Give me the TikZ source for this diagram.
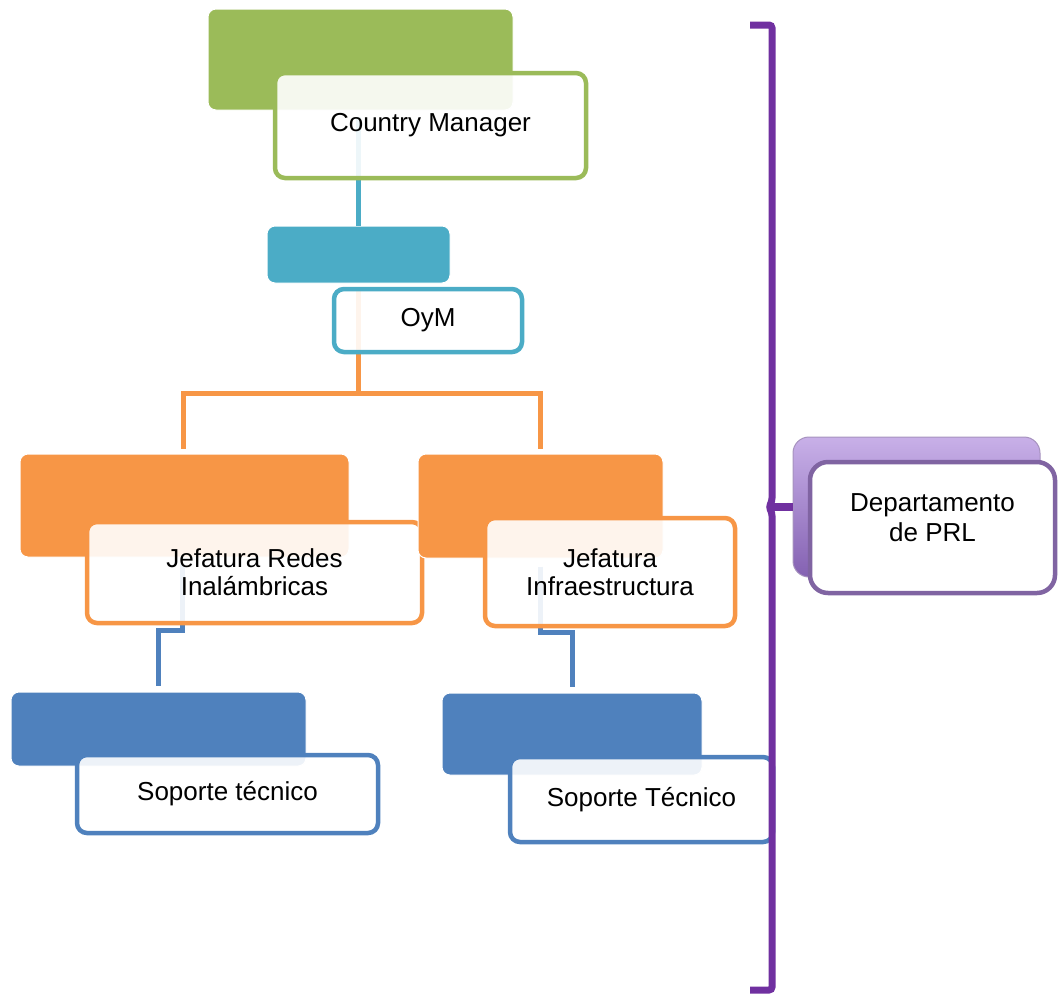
\documentclass[tikz,border=0pt]{standalone}
\usepackage{fontspec}
\setmainfont{Liberation Sans}
\usetikzlibrary{calc}
\definecolor{cgreen}{HTML}{9BBB59}
\definecolor{cteal}{HTML}{4BACC6}
\definecolor{corange}{HTML}{F79646}
\definecolor{cblue}{HTML}{4F81BD}
\definecolor{cpurple}{HTML}{7030A0}
\definecolor{cpbox}{HTML}{8064A2}
\definecolor{cptop}{HTML}{C8B0E8}
\definecolor{cpbot}{HTML}{8461B2}
\tikzset{
  fbox/.style={rectangle, rounded corners=8pt, inner sep=0pt, draw=white, line width=1pt, fill=#1},
  wbox/.style={rectangle, rounded corners=10pt, inner sep=0pt, draw=#1, line width=4.5pt,
    fill=white, fill opacity=0.9, text opacity=1, align=center,
    font=\fontsize{26}{28}\selectfont},
  conn/.style={draw=#1, line width=5pt},
}
\begin{document}
\begin{tikzpicture}[x=1pt,y=-1pt]
\useasboundingbox (0,0) rectangle (1060,994);
\coordinate (obar) at (358,393);
% top level
\node[fbox=cgreen, minimum width=305, minimum height=101] (gf) at (360.5,59.5) {};
\node[fbox=cteal, minimum width=183, minimum height=57] (tf) at (358.5,254.5) {};
\draw[conn=cteal] (tf.north |- 0,117) -- (tf.north);
\draw[conn=corange] (obar |- 0,290) -- (obar);
\node[wbox=cgreen, minimum width=311, minimum height=105] (cm) at (430.5,125.5) {Country Manager};
\node[wbox=cteal, minimum width=188, minimum height=63] (oym) at (428,320.5) {OyM};
% left branch
\node[fbox=corange, minimum width=329, minimum height=103] (ljf) at (184.5,505.5) {};
\node[fbox=cblue, minimum width=295, minimum height=74] (lbf) at (158.5,729) {};
\draw[conn=cblue] ($(ljf.south)+(-2,6)$) -- ($(ljf.south |- 0,630)+(-2,0)$) -- (lbf.north |- 0,630) -- ($(lbf.north)+(0,-6)$);
\node[wbox=corange, minimum width=335, minimum height=101] (ljw) at (254.5,572.5) {Jefatura Redes\\Inalámbricas};
% right branch
\node[fbox=corange, minimum width=245, minimum height=104] (rjf) at (540.5,506) {};
\node[fbox=cblue, minimum width=260, minimum height=82] (rbf) at (572,734) {};
\draw[conn=cblue] ($(rjf.south)+(0,8)$) -- (rjf.south |- 0,632) -- (rbf.north |- 0,632) -- ($(rbf.north)+(0,-6)$);
\draw[conn=corange, line cap=rect] ($(ljf.north)+(-1,-7)$) -- ($(ljf.north |- obar)+(-1,0)$) -- (rjf.north |- obar) -- ($(rjf.north)+(0,-7)$);
\node[wbox=corange, minimum width=250, minimum height=108] (rjw) at (610,572) {Jefatura\\Infraestructura};
% bottom level
\node[wbox=cblue, minimum width=301, minimum height=78] (lbw) at (227.5,794) {Soporte técnico};
\node[wbox=cblue, minimum width=263, minimum height=85] (rbw) at (641.5,799.5) {Soporte Técnico};
% purple department
\node[rectangle, rounded corners=16pt, minimum width=247, minimum height=140, draw=cpbox!70, line width=1pt, top color=cptop, bottom color=cpbot] (prlb) at (916.5,507) {};
\draw[draw=cpurple, line width=8pt] (772,507) -- (prlb.west);
\node[rectangle, rounded corners=18pt, minimum width=245, minimum height=131, draw=cpbox, line width=4.5pt, fill=white] (prl) at (932.5,527.5) {};
\node[align=center, font=\fontsize{26}{30}\selectfont, inner sep=0pt] (prltext) at ($(prl.center)+(0,-10)$) {Departamento\\de PRL};
% bracket
\draw[cpurple, line width=7pt, rounded corners=3pt] (750,25) -- (772,25) -- (772,501) -- (769,507) -- (772,513) -- (772,990) -- (750,990);
\end{tikzpicture}
\end{document}
